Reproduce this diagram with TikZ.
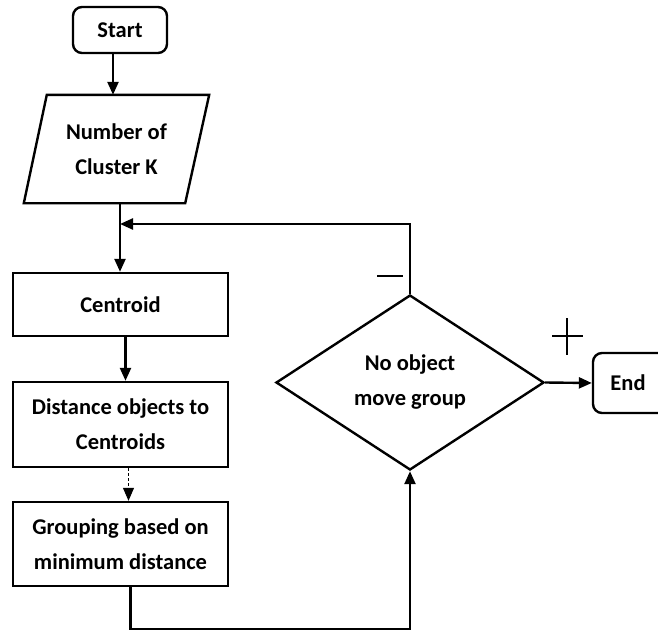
\documentclass[tikz,border=0pt]{standalone}
\usepackage{fontspec}
\setmainfont{Carlito}
\usetikzlibrary{shapes.geometric,arrows.meta,calc}
\begin{document}
\begin{tikzpicture}[x=1pt,y=-1pt,
  line width=2.4pt,
  arr/.style={-{Triangle[length=13pt,width=11pt]}},
  lbl/.style={font=\fontsize{22.5}{35}\selectfont\bfseries, align=center, inner sep=0pt},
  boxnode/.style={draw, rectangle, lbl, minimum width=215pt},
  roundnode/.style={draw, rectangle, rounded corners=9pt, lbl},
  sign/.style={line width=2.2pt}
]
\useasboundingbox (0,0) rectangle (658,629);
\clip (0,0) rectangle (658,629);

\node[roundnode, minimum width=94pt, minimum height=46pt] (start) at (120,30) {Start};
\node[lbl, minimum width=183pt, minimum height=106pt] (num) at (116.5,149) {Number of\\Cluster K};
\draw ($(num.north west)+(23,0)$) -- (num.north east) -- ($(num.south east)+(-24,0)$) -- (num.south west) -- cycle;

\node[boxnode, minimum height=63pt] (cen) at (120.5,304.5) {Centroid};
\node[boxnode, minimum height=85pt] (dist) at (120.5,424.5) {Distance objects to\\Centroids};
\node[boxnode, minimum height=84pt] (grp) at (120.5,544) {Grouping based on\\minimum distance};

\node[draw, diamond, lbl, minimum width=268pt, minimum height=175pt] (dec) at (410,382.5) {No object\\move group};
\node[roundnode, minimum width=74pt, minimum height=60pt] (end) at (630,383) {};
\node[lbl] (endt) at (628,383) {End};

\coordinate (jn) at (120,224);

\draw[arr] ([xshift=-7pt]start.south) -- ([xshift=-7pt]start.south |- num.north);
\draw (num.south -| jn) -- (jn);
\draw[arr] (jn) -- (jn |- cen.north);
\draw[arr] (dec.north) -- (dec.north |- jn) -- (jn);
\draw[arr] ([xshift=5pt]cen.south) -- ([xshift=5pt]cen.south |- dist.north);
\draw[arr, line width=1pt, dash pattern=on 3pt off 2pt] ([xshift=8pt]dist.south) -- ([xshift=8pt]dist.south |- grp.north);
\coordinate (bot) at ($(grp.south)+(10,42)$);
\draw[arr] ([xshift=10pt]grp.south) -- (bot) -- (bot -| dec.south) -- (dec.south);
\draw[arr] (dec.east) -- (end.west);

\node (minus) at (390,276) {};
\draw[sign] (377,276) -- (403,276);
\node (plus) at (567,336) {};
\draw[sign] (552,336) -- (583,336) (567,318) -- (567,355);
\end{tikzpicture}
\end{document}
